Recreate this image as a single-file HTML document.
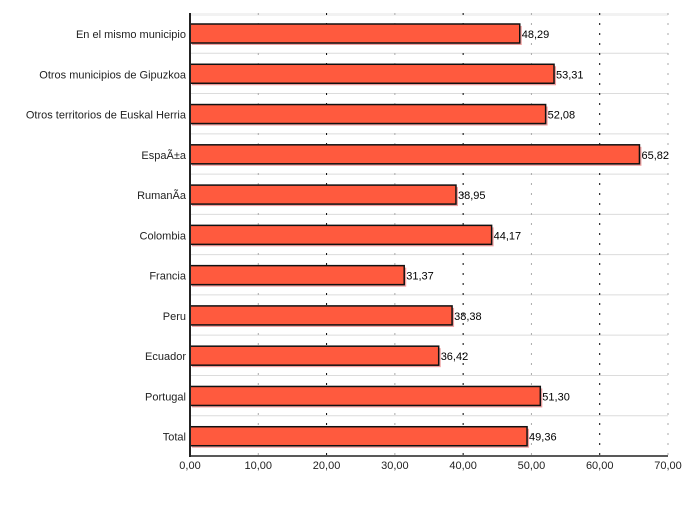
<!DOCTYPE html>
<html><head><meta charset="utf-8"><style>
body{margin:0;background:#fff;width:700px;height:500px;overflow:hidden}
svg{font-family:"Liberation Sans",sans-serif}
</style></head><body>
<svg id="chart" width="700" height="500"></svg>
<script>
const categories=["En el mismo municipio","Otros municipios de Gipuzkoa","Otros territorios de Euskal Herria","EspaÃ±a","RumanÃ­a","Colombia","Francia","Peru","Ecuador","Portugal","Total"];
const values=[48.29,53.31,52.08,65.82,38.95,44.17,31.37,38.38,36.42,51.30,49.36];
const ticks=[0,10,20,30,40,50,60,70];
const NS="http://www.w3.org/2000/svg";
const svg=document.getElementById('chart');
const x0=190,x1=668,top0=13,bottom=456;
const rowH=(bottom-top0)/categories.length;
function xScale(v){return x0+(v-0)/(70-0)*(x1-x0);}
function rowY(i){return top0+i*rowH;}
function mk(t,a,p){const e=document.createElementNS(NS,t);for(const k in a)e.setAttribute(k,a[k]);(p||svg).appendChild(e);return e;}
const fmt=v=>v.toFixed(2).replace('.',',');
// horizontal grid
for(let i=1;i<categories.length;i++){
  const l=mk('line',{x1:x0,x2:x1,y1:rowY(i),y2:rowY(i),stroke:'#dcdcdc','stroke-width':1});
  
  
}
mk('rect',{x:x0,y:top0,width:x1-x0,height:3,fill:'#f2f2f2'});
// vertical grid
ticks.forEach((t,k)=>{
  if(t===0)return;
  const l=mk('line',{x1:xScale(t),x2:xScale(t),y1:top0,y2:bottom,stroke:k%2===0?'#000':'#aaa','stroke-width':1,'stroke-dasharray':'2,8'});
  
  
  const tx=mk('text',{x:xScale(t),y:bottom+13,'font-size':11,'text-anchor':'middle',fill:'#222'});
  tx.textContent=fmt(t);
  
  
});
const t0=mk('text',{x:xScale(0),y:bottom+13,'font-size':11,'text-anchor':'middle',fill:'#222'});
t0.textContent=fmt(0);


// bars
categories.forEach((c,i)=>{
  const y=rowY(i)+11,h=19,w=xScale(values[i])-x0;
  const s=mk('rect',{x:x0+2,y:y+2,width:w,height:h,fill:'#f0a0a0'});
  
  
  const b=mk('rect',{x:x0,y:y,width:w,height:h,fill:'#ff5a3e',stroke:'#111','stroke-width':1.5});
  
  
  const v=mk('text',{x:x0+w+2,y:y+14,'font-size':11,fill:'#000'});
  v.textContent=fmt(values[i]);
  
  
  const l=mk('text',{x:186,y:y+14,'font-size':11,'text-anchor':'end',fill:'#222'});
  l.textContent=c;
  
  
});
// axes
const ya=mk('line',{x1:x0,x2:x0,y1:top0,y2:bottom+1,stroke:'#222','stroke-width':2});


const xa=mk('line',{x1:x0-1,x2:x1,y1:bottom,y2:bottom,stroke:'#222','stroke-width':1.5});


</script>
</body></html>
